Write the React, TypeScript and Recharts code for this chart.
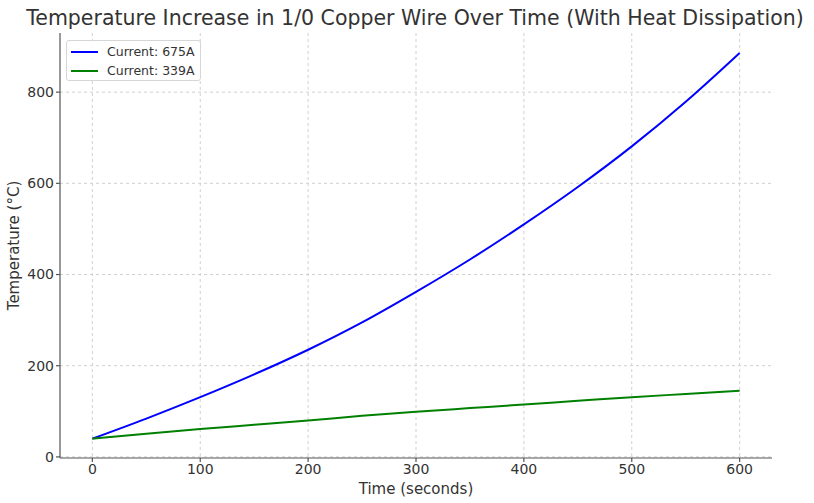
import React from 'react';
import { CartesianGrid, Label, Line, LineChart, XAxis, YAxis } from 'recharts';

// elapsed time in seconds
const times = [0, 50, 100, 150, 200, 250, 300, 350, 400, 450, 500, 550, 600];
// wire temperature (°C) at 675A and 339A
const temp675 = [40, 84, 131, 181, 235, 295, 362, 433, 510, 592, 681, 779, 886];
const temp339 = [40, 51, 61, 70.5, 80, 90, 99, 107, 115, 123, 131, 138, 145];

const xTicks = [0, 100, 200, 300, 400, 500, 600];
const yTicks = [0, 200, 400, 600, 800];

const rows = times.map((t, i) => ({ t, a675: temp675[i], a339: temp339[i] }));

const FONT = '"DejaVu Sans", sans-serif';
const INK = '#333';
const SPINE = '#555';

const legendItems = [
  { label: 'Current: 675A', color: '#0000ff' },
  { label: 'Current: 339A', color: '#008000' },
];

function LegendBox() {
  return (
    <div
      style={{
        position: 'absolute',
        left: 66,
        top: 40,
        width: 135,
        height: 41,
        boxSizing: 'border-box',
        border: '1px solid #d6d6d6',
        borderRadius: 3,
        background: 'rgba(255,255,255,0.85)',
        fontFamily: FONT,
        fontSize: 12.5,
        color: INK,
      }}
    >
      {legendItems.map((it, i) => (
        <div
          key={it.label}
          style={{ position: 'absolute', left: 4, top: 2 + i * 19, height: 17, display: 'flex', alignItems: 'center' }}
        >
          <span style={{ width: 27, height: 2, background: it.color, display: 'inline-block', marginRight: 9 }} />
          <span>{it.label}</span>
        </div>
      ))}
    </div>
  );
}

export default function App() {
  return (
    <div style={{ position: 'fixed', left: 0, top: 0, width: 814, height: 503, background: '#fff' }}>
      <div
        style={{
          position: 'absolute',
          left: 0,
          top: 6,
          width: 830,
          textAlign: 'center',
          fontFamily: FONT,
          fontSize: 20.5,
          color: INK,
          whiteSpace: 'nowrap',
        }}
      >
        Temperature Increase in 1/0 Copper Wire Over Time (With Heat Dissipation)
      </div>
      <LineChart width={814} height={503} data={rows} margin={{ top: 33, right: 42, left: 0, bottom: 0 }}>
        <CartesianGrid
          stroke="#d0d0d0"
          strokeDasharray="3 3"
          verticalValues={xTicks}
          horizontalValues={yTicks}
        />
        <XAxis
          dataKey="t"
          type="number"
          domain={[-30, 630]}
          ticks={xTicks}
          height={45}
          stroke={SPINE}
          strokeWidth={1.2}
          tickSize={4}
          tick={{ fill: INK, fontSize: 14, fontFamily: FONT }}
          allowDataOverflow
        >
          <Label value="Time (seconds)" position="insideBottom" offset={9} style={{ fill: INK, fontSize: 15, fontFamily: FONT }} />
        </XAxis>
        <YAxis
          type="number"
          domain={[-2.4, 929.7]}
          ticks={yTicks}
          width={60}
          stroke={SPINE}
          strokeWidth={1.2}
          tickSize={4}
          tick={{ fill: INK, fontSize: 14, fontFamily: FONT }}
          allowDataOverflow
        >
          <Label
            value="Temperature (°C)"
            angle={-90}
            position="insideLeft"
            offset={14}
            style={{ fill: INK, fontSize: 15, fontFamily: FONT, textAnchor: 'middle' }}
          />
        </YAxis>
        <Line dataKey="a675" type="monotone" stroke="#0000ff" strokeWidth={2} dot={false} isAnimationActive={false} />
        <Line dataKey="a339" type="monotone" stroke="#008000" strokeWidth={2} dot={false} isAnimationActive={false} />
      </LineChart>
      <LegendBox />
    </div>
  );
}
